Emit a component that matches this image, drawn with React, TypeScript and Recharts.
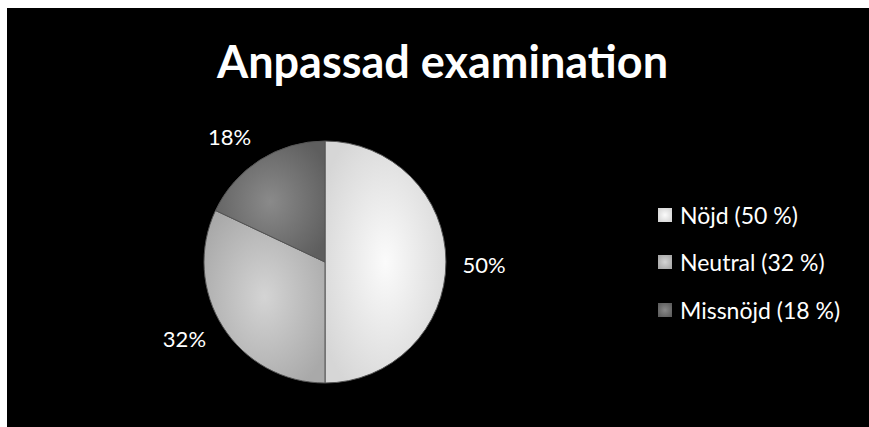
import React from "react";
import { PieChart, Pie, Cell, Legend } from "recharts";

const categories = ["Nöjd", "Neutral", "Missnöjd"];
const values = [50, 32, 18];
const legendLabels = ["Nöjd (50 %)", "Neutral (32 %)", "Missnöjd (18 %)"];
const sliceLabels = ["50%", "32%", "18%"];
const title = "Anpassad examination";

const data = categories.map((name, i) => ({ name, value: values[i], legend: legendLabels[i], label: sliceLabels[i] }));

const gradients = [
  { id: "g0", inner: "#fbfbfb", outer: "#d6d6d6" },
  { id: "g1", inner: "#d4d4d4", outer: "#a9a9a9" },
  { id: "g2", inner: "#8a8a8a", outer: "#5e5e5e" },
];

const FONT = "Lato, 'Open Sans', sans-serif";
const RAD = Math.PI / 180;

const renderLabel = (props: any) => {
  const { cx, cy, midAngle, outerRadius, index } = props;
  const r = outerRadius + 38;
  const a = midAngle - 5 * Math.sin(2 * midAngle * RAD);
  const x = cx + r * Math.cos(-a * RAD);
  const y = cy + r * Math.sin(-a * RAD) + 2;
  return (
    <text x={x} y={y} fill="#ffffff" fontSize={22} fontFamily={FONT} textAnchor="middle" dominantBaseline="central">
      {data[index].label}
    </text>
  );
};

const LegendContent = () => (
  <div style={{ fontFamily: FONT, color: "#fff", fontSize: 23 }}>
    {data.map((d, i) => (
      <div key={d.name} style={{ display: "flex", alignItems: "center", height: 47.5 }}>
        <svg width={14} height={14} style={{ marginRight: 8 }}>
          <rect x={0} y={0} width={14} height={14} fill={`url(#${gradients[i].id})`} />
        </svg>
        <span>{d.legend}</span>
      </div>
    ))}
  </div>
);

export default function App() {
  return (
    <div style={{ position: "absolute", left: 7, top: 8, width: 862, height: 419, background: "#000", overflow: "hidden" }}>
      <div
        style={{
          position: "absolute",
          left: 1,
          width: 869,
          top: 27,
          textAlign: "center",
          color: "#fff",
          fontFamily: FONT,
          fontWeight: 700,
          fontSize: 45,
          lineHeight: "52px",
        }}
      >
        {title}
      </div>
      <PieChart width={862} height={419} margin={{ top: 0, right: 0, bottom: 0, left: 0 }}>
        <defs>
          {gradients.map((g) => (
            <radialGradient key={g.id} id={g.id} cx="50%" cy="50%" r="60%">
              <stop offset="0%" stopColor={g.inner} />
              <stop offset="100%" stopColor={g.outer} />
            </radialGradient>
          ))}
        </defs>
        <Pie
          data={data}
          dataKey="value"
          nameKey="name"
          cx={318}
          cy={254}
          outerRadius={121}
          startAngle={90}
          endAngle={-270}
          stroke="#555"
          strokeWidth={1}
          label={renderLabel}
          labelLine={false}
          isAnimationActive={false}
        >
          {data.map((d, i) => (
            <Cell key={d.name} fill={`url(#${gradients[i].id})`} />
          ))}
        </Pie>
        <Legend
          layout="vertical"
          verticalAlign="middle"
          align="right"
          wrapperStyle={{ left: 651, top: 183, width: 210 }}
          content={<LegendContent />}
        />
      </PieChart>
    </div>
  );
}
